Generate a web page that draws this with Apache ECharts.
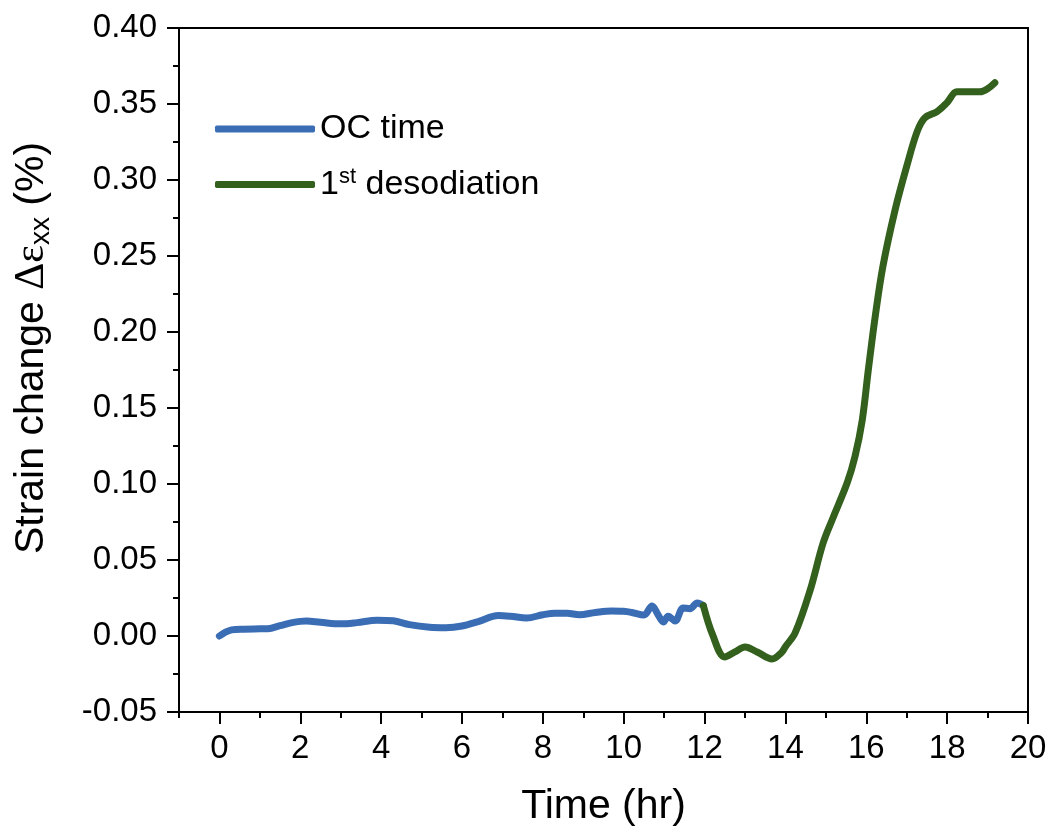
<!DOCTYPE html>
<html>
<head>
<meta charset="utf-8">
<script src="https://cdn.jsdelivr.net/npm/echarts@6/dist/echarts.min.js"></script>
<style>
html,body{margin:0;padding:0;background:#fff;}
#c{width:1052px;height:837px;}
</style>
</head>
<body>
<div id="c"></div>
<script>
// ---- data ----
const ocTime = [0, 0.15, 0.3, 0.6, 1.0, 1.2, 1.5, 1.8, 2.15, 2.5, 3.0, 3.4, 3.9, 4.3, 4.7, 5.2, 5.6, 6.0, 6.4, 6.9, 7.2, 7.6, 8.0, 8.3, 8.6, 8.9, 9.3, 9.7, 10.0, 10.2, 10.5, 10.7, 10.85, 10.98, 11.1, 11.27, 11.47, 11.64, 11.82, 11.97];
const ocStrain = [0.000, 0.0025, 0.004, 0.0045, 0.0047, 0.0048, 0.0068, 0.0088, 0.0098, 0.0090, 0.0080, 0.0088, 0.0104, 0.0100, 0.0075, 0.0058, 0.0055, 0.0066, 0.0095, 0.0135, 0.0130, 0.0118, 0.0140, 0.0150, 0.0150, 0.0140, 0.0155, 0.0165, 0.0163, 0.0155, 0.0138, 0.0197, 0.0140, 0.0092, 0.0130, 0.0099, 0.0184, 0.0180, 0.0217, 0.0200];
const desTime = [11.97, 12.2, 12.5, 12.75, 13.0, 13.3, 13.67, 13.9, 14.0, 14.24, 14.61, 14.93, 15.18, 15.53, 15.72, 15.9, 16.05, 16.22, 16.41, 16.71, 17.0, 17.26, 17.45, 17.75, 18.0, 18.24, 18.49, 18.81, 19.0, 19.18];
const desStrain = [0.0200, 0.0007, -0.0138, -0.0105, -0.0072, -0.0105, -0.0151, -0.0110, -0.0070, 0.0020, 0.0300, 0.0610, 0.0780, 0.1010, 0.1180, 0.1420, 0.1750, 0.2100, 0.2430, 0.2800, 0.3090, 0.3320, 0.3410, 0.3450, 0.3510, 0.3580, 0.3580, 0.3580, 0.3600, 0.3640];
const xMajorTicks = [0, 2, 4, 6, 8, 10, 12, 14, 16, 18, 20];
const seriesNames = ['OC time', '1st desodiation'];
const seriesColors = ['#3a6db4', '#33601c'];

const FONT = 'Liberation Sans';
const chart = echarts.init(document.getElementById('c'));
const zip = (a, b) => a.map((v, i) => [v, b[i]]);

chart.setOption({
  animation: false,
  backgroundColor: '#fff',
  grid: {left: 179, right: 24, top: 28, bottom: 125, show: true, borderColor: '#000', borderWidth: 2, backgroundColor: 'transparent'},
  legend: {
    left: 210, top: 107, orient: 'vertical', itemWidth: 100, itemHeight: 7, itemGap: 20,
    icon: 'roundRect',
    data: seriesNames.map((n, i) => ({name: n, itemStyle: {color: seriesColors[i]}})),
    formatter: n => n === '1st desodiation' ? '{a|1}{sup|st}{a| desodiation}' : '{a|' + n + '}',
    textStyle: {
      fontFamily: FONT, fontSize: 34, color: '#000', padding: [0, 0, 0, 0],
      rich: {
        a: {fontFamily: FONT, fontSize: 34, color: '#000', lineHeight: 37},
        sup: {fontFamily: FONT, fontSize: 22, color: '#000', verticalAlign: 'top', lineHeight: 37, padding: [0, 0, 14, 0]}
      }
    }
  },
  xAxis: [{
    type: 'value', min: -1, max: 20, interval: 1,
    name: 'Time (hr)', nameLocation: 'middle', nameGap: 74,
    nameTextStyle: {fontFamily: FONT, fontSize: 41, color: '#000'},
    axisLine: {onZero: false, lineStyle: {color: '#000', width: 2}},
    axisTick: {show: true, inside: false, length: 12, lineStyle: {color: '#000', width: 2}, customValues: xMajorTicks},
    axisLabel: {fontFamily: FONT, fontSize: 33, color: '#000', margin: 20, customValues: xMajorTicks, formatter: v => String(v)},
    splitLine: {show: false}
  }, {
    type: 'value', min: -1, max: 20, interval: 1, position: 'bottom', gridIndex: 0,
    axisLine: {show: false, onZero: false},
    axisTick: {show: true, inside: false, length: 6, lineStyle: {color: '#000', width: 2}},
    axisLabel: {show: false},
    splitLine: {show: false}
  }],
  yAxis: {
    type: 'value', min: -0.05, max: 0.40, interval: 0.05,
    name: '{a|Strain change }{g|Δε}{sub|xx}{a| (%)}', nameLocation: 'middle', nameGap: 124, nameRotate: 90,
    nameTextStyle: {
      fontFamily: FONT, fontSize: 41, color: '#000', padding: [0, 0, 0, 44],
      rich: {
        a: {fontFamily: FONT, fontSize: 41, color: '#000', lineHeight: 46},
        g: {fontFamily: 'Liberation Serif', fontSize: 42, color: '#000', lineHeight: 46},
        sub: {fontFamily: FONT, fontSize: 28, color: '#000', lineHeight: 46, verticalAlign: 'bottom', padding: [13, 0, 0, 0]}
      }
    },
    axisLine: {onZero: false, lineStyle: {color: '#000', width: 2}},
    axisTick: {show: true, inside: false, length: 12, lineStyle: {color: '#000', width: 2}},
    minorTick: {show: true, splitNumber: 2, length: 6, lineStyle: {color: '#000', width: 2}},
    axisLabel: {fontFamily: FONT, fontSize: 33, color: '#000', margin: 22, formatter: v => v.toFixed(2)},
    splitLine: {show: false},
    minorSplitLine: {show: false}
  },
  series: [{
    name: seriesNames[0], type: 'line', data: zip(ocTime, ocStrain), showSymbol: false, symbol: 'none',
    smooth: 0.35, lineStyle: {color: seriesColors[0], width: 7, cap: 'round', join: 'round'}, itemStyle: {color: seriesColors[0]}, z: 3
  }, {
    name: seriesNames[1], type: 'line', data: zip(desTime, desStrain), showSymbol: false, symbol: 'none',
    smooth: 0.35, lineStyle: {color: seriesColors[1], width: 7, cap: 'round', join: 'round'}, itemStyle: {color: seriesColors[1]}, z: 4
  }]
});
</script>
</body>
</html>
